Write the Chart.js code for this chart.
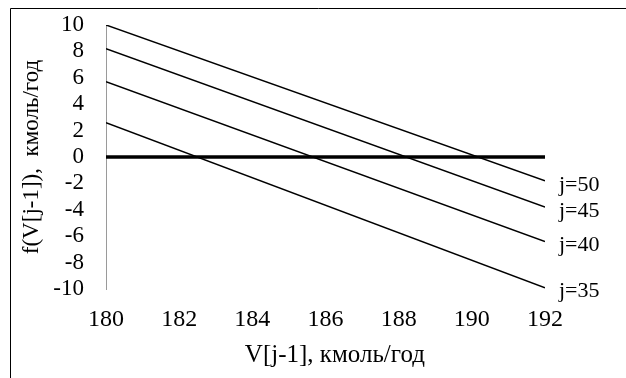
<!DOCTYPE html>
<html>
<head>
<meta charset="utf-8">
<script src="https://cdn.jsdelivr.net/npm/chart.js@4"></script>
<style>
    html, body { margin: 0; padding: 0; background: #fff; }
    #wrap { position: relative; width: 626px; height: 378px; }
</style>
</head>
<body>
<div id="wrap"><canvas id="chart" width="626" height="378"></canvas></div>
<script>
// Chart data
const xValues = [180, 192];
const seriesLabels = ['j=50', 'j=45', 'j=40', 'j=35'];
const j50 = [10, -1.8];
const j45 = [8.2, -3.8];
const j40 = [5.7, -6.4];
const j35 = [2.6, -9.9];
const zeroLine = [0, 0];
const xTicks = [180, 182, 184, 186, 188, 190, 192];
const yTicks = [-10, -8, -6, -4, -2, 0, 2, 4, 6, 8, 10];

const FONT = 'Liberation Serif';

function toPoints(ys) {
    return xValues.map((x, i) => ({ x: x, y: ys[i] }));
}

// Frame around the chart (top and left edges visible)
const framePlugin = {
    id: 'frame',
    afterDraw(chart) {
        const ctx = chart.ctx;
        ctx.save();
        ctx.strokeStyle = '#000';
        ctx.lineWidth = 1;
        ctx.beginPath();
        ctx.moveTo(10.5, 400);
        ctx.lineTo(10.5, 8.5);
        ctx.lineTo(640, 8.5);
        ctx.stroke();
        ctx.restore();
    }
};

// Series labels at the right end of each line
const endLabels = {
    id: 'endLabels',
    afterDatasetsDraw(chart) {
        const ctx = chart.ctx;
        const xs = chart.scales.x;
        const ys = chart.scales.y;
        ctx.save();
        ctx.font = '22px "' + FONT + '"';
        ctx.fillStyle = '#000';
        ctx.textBaseline = 'middle';
        ctx.textAlign = 'left';
        chart.data.datasets.forEach(ds => {
            if (!ds.endLabel) return;
            const last = ds.data[ds.data.length - 1];
            ctx.fillText(ds.endLabel, xs.getPixelForValue(last.x) + 14, ys.getPixelForValue(last.y) + 4);
        });
        ctx.restore();
    }
};

const lineStyle = { borderColor: '#000', borderWidth: 1.5, pointRadius: 0, tension: 0, fill: false };

new Chart(document.getElementById('chart'), {
    type: 'line',
    data: {
        datasets: [
            Object.assign({ data: toPoints(j50), endLabel: seriesLabels[0] }, lineStyle),
            Object.assign({ data: toPoints(j45), endLabel: seriesLabels[1] }, lineStyle),
            Object.assign({ data: toPoints(j40), endLabel: seriesLabels[2] }, lineStyle),
            Object.assign({ data: toPoints(j35), endLabel: seriesLabels[3] }, lineStyle),
            { data: toPoints(zeroLine), borderColor: '#000', borderWidth: 3.5, pointRadius: 0, fill: false }
        ]
    },
    options: {
        responsive: false,
        animation: false,
        layout: { padding: { left: 0, right: 81, top: 25, bottom: 0 } },
        plugins: {
            legend: { display: false },
            tooltip: { enabled: false }
        },
        scales: {
            x: {
                type: 'linear',
                min: 180,
                max: 192,
                afterBuildTicks: s => { s.ticks = xTicks.map(v => ({ value: v })); },
                grid: { display: false, drawTicks: false },
                border: { display: false },
                ticks: { color: '#000', font: { family: FONT, size: 24 }, padding: 16, autoSkip: false, maxRotation: 0 },
                title: {
                    display: true,
                    text: '\u00a0\u00a0\u00a0V[j-1], кмоль/год',
                    color: '#000',
                    font: { family: FONT, size: 25 },
                    padding: { top: 4, bottom: 8 }
                },
                afterFit: s => {
                    s.height = 89;
                    s.paddingLeft = 0;
                    s.paddingRight = 0;
                }
            },
            y: {
                min: -10,
                max: 10,
                afterBuildTicks: s => { s.ticks = yTicks.map(v => ({ value: v })); },
                grid: { display: false, drawTicks: false },
                border: { display: true, color: '#9a9a9a', width: 1 },
                ticks: { color: '#000', font: { family: FONT, size: 23 }, padding: 22, autoSkip: false },
                title: {
                    display: true,
                    text: 'f(V[j-1]),  кмоль/год',
                    color: '#000',
                    font: { family: FONT, size: 23 },
                    padding: { top: 18, bottom: 0 }
                },
                afterFit: s => {
                    s.width = 106;
                    s.paddingTop = 0;
                    s.paddingBottom = 0;
                }
            }
        }
    },
    plugins: [framePlugin, endLabels]
});
</script>
</body>
</html>
